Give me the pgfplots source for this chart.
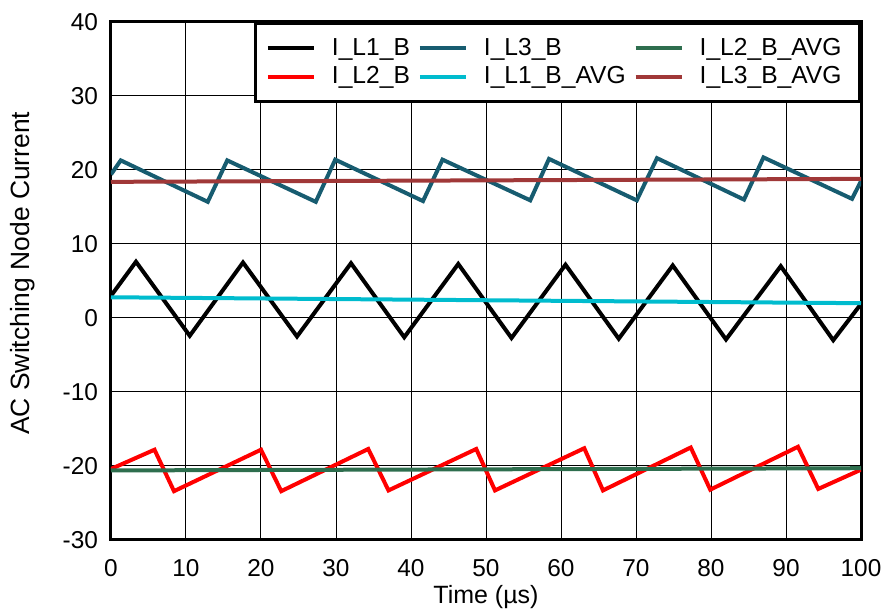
\documentclass[border=0pt]{standalone}
\usepackage{fontspec}
\setmainfont{Liberation Sans}
\usepackage{pgfplots}
\pgfplotsset{compat=1.18}
\definecolor{cTeal}{RGB}{23,92,112}
\definecolor{cCyan}{RGB}{0,188,206}
\definecolor{cGreen}{RGB}{46,110,78}
\definecolor{cBrown}{RGB}{160,56,56}
\begin{document}
\begin{tikzpicture}
\useasboundingbox (-55.5pt,-37.5pt) rectangle (386.5pt,270pt);
\begin{axis}[
  at={(0pt,0pt)}, anchor=south west,
  scale only axis, width=375pt, height=259pt,
  xmin=0, xmax=100, ymin=-30, ymax=40,
  xtick={0,10,...,100}, ytick={-30,-20,...,40},
  grid=major, major grid style={black, line width=0.5pt},
  axis line style={line width=1.5pt},
  major tick length=0pt,
  /pgf/number format/assume math mode=true,
  tick label style={font=\fontsize{12.2}{14}\selectfont},
  yticklabel style={xshift=-3pt},
  xticklabel style={yshift=-6pt},
  xlabel={Time (\textmu s)},
  ylabel={AC Switching Node Current},
  label style={font=\fontsize{12.5}{15}\selectfont},
  xlabel style={at={(axis description cs:0.5,0)}, anchor=base, yshift=-32pt},
  ylabel style={at={([xshift=-44pt]axis description cs:0,0.515)}, anchor=center, font=\fontsize{13.2}{15}\selectfont},
  legend columns=3,
  legend cell align=left,
  legend image code/.code={\draw[#1] (0pt,0pt) -- (23pt,0pt);},
  legend style={at={(rel axis cs:1,1)}, anchor=north east, draw=black, line width=1.5pt,
    font=\fontsize{12.3}{14}\selectfont, inner xsep=5pt, inner ysep=6.5pt,
    nodes={inner xsep=4pt, inner ysep=0.8pt},
    row sep=2.5pt,
    /tikz/every even column/.append style={column sep=0pt},
    /tikz/every odd column/.append style={column sep=4pt}},
  every axis plot/.append style={line width=2pt},
]
% waveforms
\addplot[black, forget plot] coordinates {(0,3.0) (3.33,7.6) (10.5,-2.4) (17.6,7.5) (24.8,-2.5) (32.0,7.4) (39.1,-2.6) (46.3,7.3) (53.4,-2.7) (60.6,7.2) (67.7,-2.8) (74.9,7.1) (82.0,-2.9) (89.3,7.0) (96.3,-3.0) (100,1.9)};
\addplot[cTeal, forget plot] coordinates {(0,19.4) (1.3,21.3) (12.9,15.7) (15.5,21.3) (27.3,15.7) (29.9,21.4) (41.6,15.8) (44.2,21.4) (55.9,15.9) (58.4,21.5) (70.1,15.9) (72.8,21.6) (84.4,16.0) (87.0,21.7) (98.8,16.1) (100,18.5)};
\addplot[red, forget plot] coordinates {(0,-20.4) (5.8,-17.8) (8.4,-23.4) (20.0,-17.8) (22.7,-23.4) (34.3,-17.7) (37.0,-23.3) (48.7,-17.7) (51.2,-23.3) (63.1,-17.6) (65.6,-23.3) (77.3,-17.5) (79.9,-23.2) (91.6,-17.4) (94.3,-23.1) (100,-20.5)};
% averages
\addplot[cCyan, forget plot] coordinates {(0,2.8) (100,2.0)};
\addplot[cGreen, forget plot] coordinates {(0,-20.6) (100,-20.3)};
\addplot[cBrown, forget plot] coordinates {(0,18.4) (100,18.8)};
% legend (row-wise order)
\addlegendimage{black, line width=2pt}\addlegendentry{I\_L1\_B}
\addlegendimage{cTeal, line width=2pt}\addlegendentry{I\_L3\_B}
\addlegendimage{cGreen, line width=2pt}\addlegendentry{I\_L2\_B\_AVG}
\addlegendimage{red, line width=2pt}\addlegendentry{I\_L2\_B}
\addlegendimage{cCyan, line width=2pt}\addlegendentry{I\_L1\_B\_AVG}
\addlegendimage{cBrown, line width=2pt}\addlegendentry{I\_L3\_B\_AVG}
\end{axis}
\end{tikzpicture}
\end{document}
